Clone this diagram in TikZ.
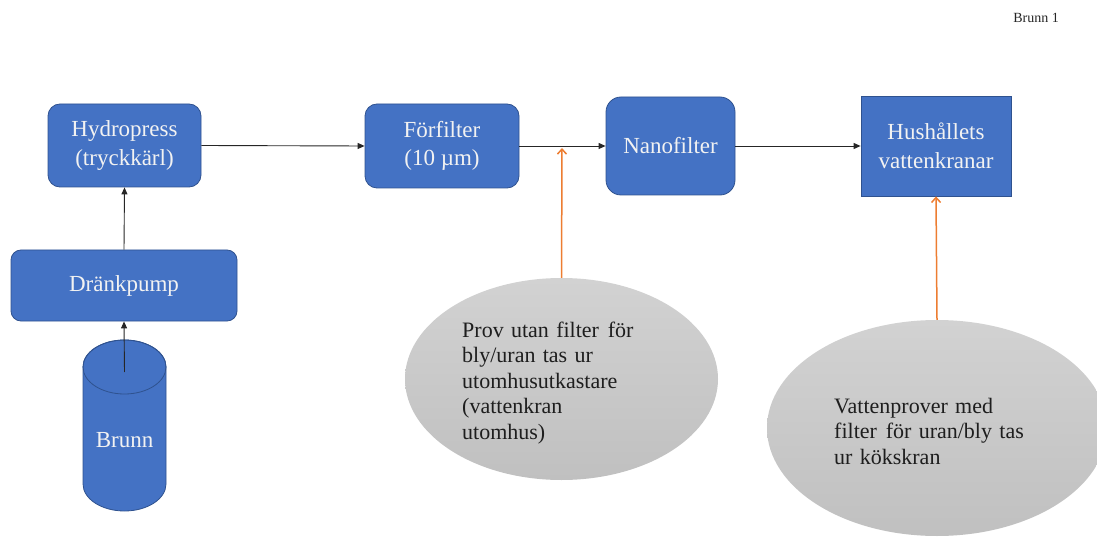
\documentclass[tikz,border=0pt]{standalone}
\usepackage{fontspec}
\setmainfont{LiberationSerif}[Extension=.ttf, UprightFont=*-Regular, BoldFont=*-Bold]
\usetikzlibrary{arrows.meta,shapes.geometric}
\definecolor{boxblue}{HTML}{4472C4}
\definecolor{boxedge}{HTML}{2F528F}
\definecolor{tapline}{HTML}{ED7D31}
\definecolor{notetop}{HTML}{D2D2D2}
\definecolor{notebot}{HTML}{C0C0C0}
\definecolor{notetext}{HTML}{1E1E1E}

\begin{document}
\begin{tikzpicture}[x=1pt,y=-1pt,
  stage/.style={fill=boxblue, draw=boxedge, line width=0.8pt, text=white!95!black,
    align=center, font=\fontsize{23}{28.5}\selectfont, inner sep=0pt},
  flow/.style={draw=black!85, line width=0.9pt, -{Triangle[length=7pt,width=6pt]}},
  sample/.style={draw=tapline, line width=1.5pt, -{Straight Barb[length=5pt,width=9pt]}},
  note/.style={ellipse, inner sep=0pt, top color=notetop, bottom color=notebot, draw=none},
  notetxt/.style={anchor=west, align=left, inner sep=0pt, text=notetext,
    font=\fontsize{22}{25.5}\selectfont}]

\useasboundingbox (0,0) rectangle (1097,537);
\clip (0,0) rectangle (1097,537);

% header
\node[font=\fontsize{14}{16}\selectfont, text=black!85] (title) at (1036,18) {Brunn 1};

% the well, drawn as a cylinder
\filldraw[fill=boxblue, draw=boxedge, line width=0.8pt]
  (83,367) -- (83,484) arc[start angle=180, end angle=0, x radius=41.5, y radius=27]
  -- (166,367) arc[start angle=0, end angle=-180, x radius=41.5, y radius=27] -- cycle;
\draw[boxedge, line width=0.8pt] (124.5,367) ellipse [x radius=41.5, y radius=27];
\node[font=\fontsize{23}{28}\selectfont, text=white!95!black] (brunn) at (124.5,440) {Brunn};
\coordinate (welltop) at (124.5,372);

% treatment chain
\node[stage, rounded corners=10pt, minimum width=226, minimum height=71] (pump) at (124,285.5) {Dränkpump};
\node[stage, rounded corners=12pt, minimum width=153, minimum height=83] (hyd) at (124.5,145.5) {Hydropress\\(tryckkärl)};
\node[stage, rounded corners=12pt, minimum width=154, minimum height=84] (forf) at (442,146) {Förfilter\\(10 µm)};
\node[stage, rounded corners=15pt, minimum width=129, minimum height=98] (nano) at (670.5,146) {Nanofilter};
\node[stage, minimum width=150, minimum height=100] (hus) at (936,146) {Hushållets\\vattenkranar};

\draw[flow] (welltop) -- (pump.south);
\draw[flow] (pump.north) -- (hyd.south);
\draw[flow] (hyd.east) -- (forf.west);
\draw[flow] (forf.east) -- (nano.west);
\draw[flow] (nano.east) -- (hus.west);

% sampling points
\node[note, minimum width=313, minimum height=202] (s1) at (561.5,379) {};
\node[notetxt, text width=182] (s1txt) at (462,383)
  {Prov utan filter\hspace{0.4em}för\\bly/uran tas ur\\utomhusutkastare\\(vattenkran\\utomhus)};
\coordinate (tap1) at (562,148);
\draw[sample] (s1.north) -- (tap1);

\node[note, minimum width=340, minimum height=216] (s2) at (937,428) {};
\node[notetxt, text width=200] (s2txt) at (834,431)
  {Vattenprover med\\filter\hspace{0.4em}för uran/bly tas\\ur kökskran};
\draw[sample] (s2.north) -- (hus.south);

\end{tikzpicture}
\end{document}
